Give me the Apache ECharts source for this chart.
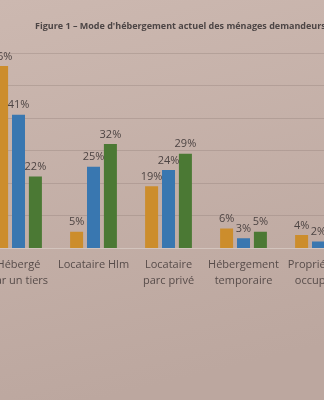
<!DOCTYPE html>
<html>
<head>
<meta charset="utf-8">
<style>
  html, body { margin: 0; padding: 0; background: #c4afa7; }
  #chart { width: 324px; height: 400px; }
</style>
<script src="https://cdn.jsdelivr.net/npm/echarts@6/dist/echarts.min.js"></script>
</head>
<body>
<div id="chart"></div>
<script>
// Mode d'hébergement actuel des ménages demandeurs (en %)
const categories = [
  'Hébergé\npar un tiers',
  'Locataire Hlm',
  'Locataire\nparc privé',
  'Hébergement\ntemporaire',
  'Propriétaire\noccupant'
];
const seriesOrange = [56, 5, 19, 6, 4];
const seriesBlue   = [41, 25, 24, 3, 2];
const seriesGreen  = [22, 32, 29, 5, 3];
const yTicks = [0, 10, 20, 30, 40, 50, 60];

const labelStyle = {
  show: true,
  position: 'top',
  distance: 4,
  formatter: '{c}%',
  fontFamily: 'Open Sans',
  fontSize: 11,
  color: '#4d4443'
};

function barSeries(name, data, color) {
  return {
    name: name,
    type: 'bar',
    data: data,
    barWidth: 13,
    barGap: '30%',
    itemStyle: { color: color },
    label: labelStyle
  };
}

const chart = echarts.init(document.getElementById('chart'));
chart.setOption({
  animation: false,
  backgroundColor: {
    type: 'linear', x: 0, y: 0, x2: 0.3, y2: 1,
    colorStops: [
      { offset: 0, color: '#ccb8b0' },
      { offset: 1, color: '#bca79f' }
    ]
  },
  title: {
    text: "Figure 1 – Mode d'hébergement actuel des ménages demandeurs",
    left: 30,
    top: 17,
    textStyle: {
      fontFamily: 'Open Sans',
      fontSize: 9,
      fontWeight: 'bold',
      color: '#4c4545'
    }
  },
  grid: {
    left: -19,
    right: -32,
    top: 53,
    bottom: 152,
    containLabel: false,
    outerBoundsMode: 'none'
  },
  xAxis: {
    type: 'category',
    data: categories,
    axisLine: { show: true, lineStyle: { color: '#d3c4bd', width: 1 } },
    axisTick: { show: false },
    axisLabel: {
      interval: 0,
      margin: 9,
      fontFamily: 'Open Sans',
      fontSize: 11,
      lineHeight: 16,
      color: '#574c4a'
    }
  },
  yAxis: {
    type: 'value',
    min: yTicks[0],
    max: yTicks[yTicks.length - 1],
    interval: 10,
    axisLine: { show: false },
    axisTick: { show: false },
    axisLabel: { show: false },
    splitLine: { show: true, lineStyle: { color: 'rgba(140,120,114,0.32)', width: 1 } }
  },
  series: [
    barSeries('Orange', seriesOrange, '#cc8d2c'),
    barSeries('Bleu', seriesBlue, '#3977b0'),
    barSeries('Vert', seriesGreen, '#4b7934')
  ]
});
</script>
</body>
</html>
